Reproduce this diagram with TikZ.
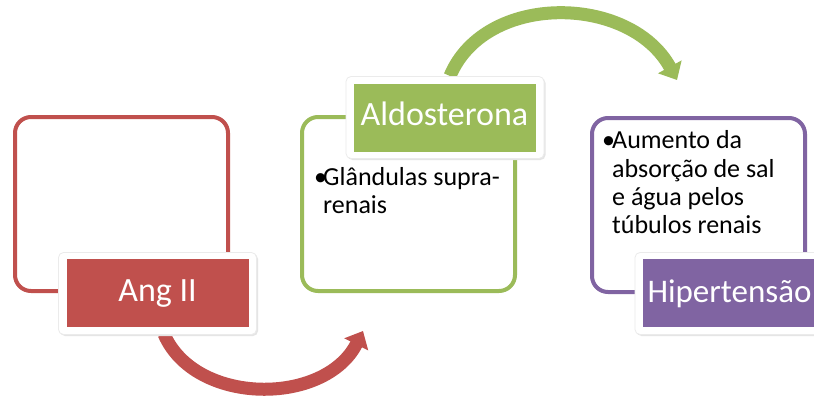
\documentclass[tikz,border=0pt]{standalone}
\usepackage{fontspec}
\setmainfont{Carlito}
\usetikzlibrary{arrows.meta}
\definecolor{cred}{HTML}{C0504D}
\definecolor{cgreen}{HTML}{9BBB59}
\definecolor{cpurple}{HTML}{8064A2}
\tikzset{
 bigbox/.style={draw=#1, line width=4pt, rounded corners=16pt, fill=white, minimum width=213pt, minimum height=174pt, inner sep=0pt},
 rim/.style={fill=white, draw=black!8, line width=0.8pt, rounded corners=5pt, minimum width=198pt, minimum height=82pt, inner sep=0pt},
 rimshadow/.style={fill=black!10, rounded corners=5pt, minimum width=198pt, minimum height=82pt, inner sep=0pt},
 labelbox/.style={fill=#1, minimum width=182pt, minimum height=68pt, inner sep=0pt},
 labeltext/.style={text=white, font=\fontsize{34}{34}\selectfont, anchor=base, inner sep=0pt},
 bodytext/.style={font=\fontsize{26}{28}\selectfont, anchor=base west, inner sep=0pt},
 flow/.style={line width=13pt, draw=#1, -{Triangle[width=26pt,length=15pt]}},
}
\begin{document}
\begin{tikzpicture}[x=1pt,y=-1pt]
\clip (0,0) rectangle (814,397);
\fill[white] (0,0) rectangle (814,397);
% connector end points
\coordinate (rs) at (164,334);
\coordinate (re) at (363,331);
\coordinate (gs) at (450,76);
\coordinate (ge) at (677,80);
% connectors
\draw[flow=cred] (rs) .. controls (195,406) and (325,406) .. (re);
\draw[flow=cgreen] (gs) .. controls (485,-8) and (630,-6) .. (ge);
% big boxes
\node[bigbox=cred] (redbox) at (121.5,204) {};
\node[bigbox=cgreen] (greenbox) at (408.5,204) {};
\node[bigbox=cpurple] (purplebox) at (698.5,205) {};
% label rims
\node[rimshadow] (redsh) at (159,295) {};
\node[rim] (redrim) at (157.5,293.5) {};
\node[rimshadow] (greensh) at (446.5,119) {};
\node[rim] (greenrim) at (445,117.5) {};
\node[rimshadow] (purplesh) at (735.5,295) {};
\node[rim] (purplerim) at (734,293.5) {};
% labels
\node[labelbox=cred] (anglabel) at (157.5,293) {};
\node[labelbox=cgreen] (aldlabel) at (444.5,118) {};
\node[labelbox=cpurple] (hiplabel) at (734,293) {};
\node[labeltext] (angtext) at (157.5,301) {Ang II};
\node[labeltext] (aldtext) at (444.5,125) {Aldosterona};
\node[labeltext, font=\fontsize{33}{33}\selectfont] (hiptext) at (729.5,302) {Hipertensão};
% body text green
\node[bodytext] (gb) at (314,185) {•};
\node[bodytext] (g1) at (323,185) {Glândulas supra-};
\node[bodytext] (g2) at (323,213) {renais};
% body text purple
\node[bodytext] (pb) at (602,148) {•};
\node[bodytext] (p1) at (612,148) {Aumento da};
\node[bodytext] (p2) at (612,177) {absorção de sal};
\node[bodytext] (p3) at (612,205) {e água pelos};
\node[bodytext] (p4) at (612,233) {túbulos renais};
\end{tikzpicture}
\end{document}
